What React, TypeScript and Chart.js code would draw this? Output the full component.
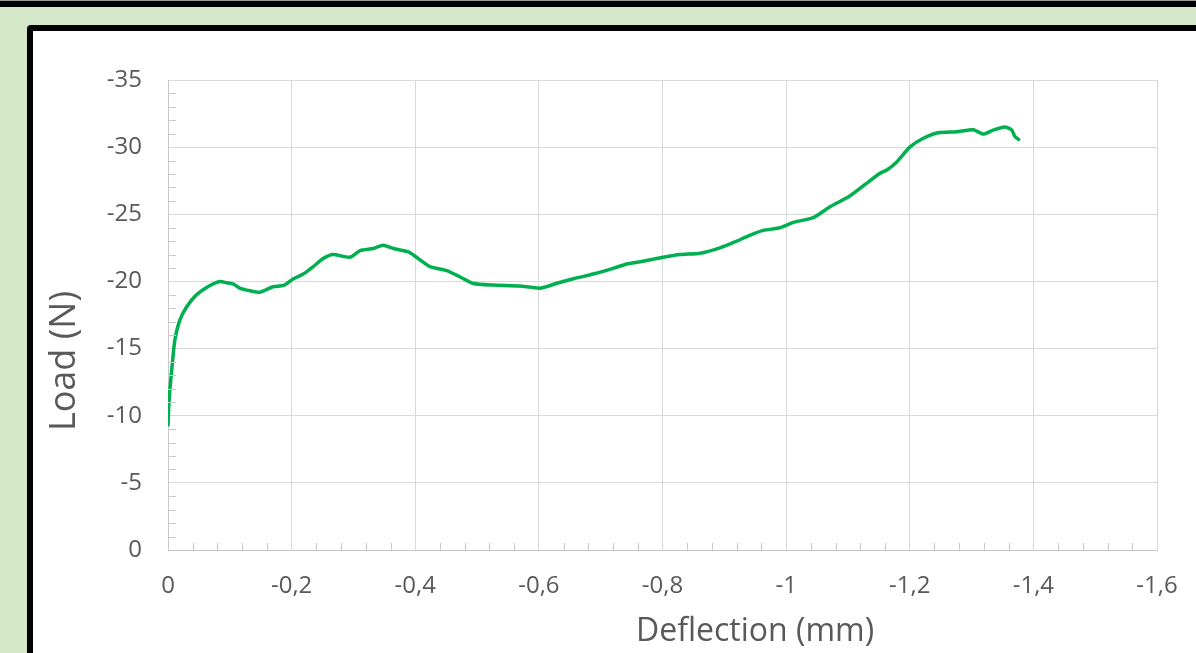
import React, { useEffect, useRef } from "react";
import { Chart, registerables } from "chart.js";

Chart.register(...registerables);

const deflection: number[] = [
  0, -0.001, -0.003, -0.007, -0.011, -0.019, -0.03, -0.046, -0.068, -0.084,
  -0.095, -0.106, -0.116, -0.133, -0.149, -0.17, -0.187, -0.203, -0.219, -0.235,
  -0.251, -0.267, -0.294, -0.311, -0.332, -0.348, -0.365, -0.389, -0.402, -0.424,
  -0.451, -0.472, -0.494, -0.526, -0.569, -0.602, -0.629, -0.656, -0.688, -0.72,
  -0.742, -0.764, -0.801, -0.828, -0.861, -0.893, -0.915, -0.942, -0.963, -0.99,
  -1.012, -1.044, -1.071, -1.103, -1.13, -1.152, -1.163, -1.179, -1.2, -1.222,
  -1.246, -1.276, -1.303, -1.319, -1.335, -1.354, -1.365, -1.37, -1.378,
];
const load: number[] = [
  -9.2, -10.5, -11.9, -13.9, -15.6, -17.1, -18.1, -19.0, -19.7, -20.0,
  -19.9, -19.8, -19.5, -19.3, -19.2, -19.6, -19.7, -20.2, -20.55, -21.1,
  -21.7, -22.0, -21.8, -22.3, -22.45, -22.7, -22.45, -22.2, -21.8, -21.1,
  -20.8, -20.35, -19.85, -19.73, -19.66, -19.5, -19.86, -20.2, -20.55, -20.97,
  -21.3, -21.47, -21.8, -22.0, -22.1, -22.5, -22.9, -23.45, -23.8, -24.0,
  -24.4, -24.75, -25.56, -26.36, -27.3, -28.05, -28.3, -28.9, -30.0, -30.66,
  -31.07, -31.15, -31.3, -30.97, -31.27, -31.5, -31.27, -30.8, -30.5,
];
const xTitle = "Deflection (mm)";
const yTitle = "Load (N)";
const xMin = -1.6;
const xMax = 0;
const xStep = 0.2;
const xMinorStep = 0.04;
const yMin = -35;
const yMax = 0;
const yStep = 5;
const yMinorStep = 1;

const FONT = "'Open Sans', sans-serif";
const TEXT = "#595959";

const decor = {
  id: "decor",
  afterDraw(chart: any) {
    const { ctx, chartArea, scales } = chart;
    const xs = scales.x;
    const ys = scales.y;
    ctx.save();
    ctx.strokeStyle = "#c8c8c8";
    ctx.lineWidth = 1;
    ctx.beginPath();
    for (let v = yMin + yMinorStep; v < yMax; v += yMinorStep) {
      const r = Math.round(v);
      if (r % yStep === 0) continue;
      const py = Math.round(ys.getPixelForValue(r)) + 0.5;
      ctx.moveTo(chartArea.left, py);
      ctx.lineTo(chartArea.left + 8, py);
    }
    const n = Math.round((xMax - xMin) / xMinorStep);
    for (let i = 1; i < n; i++) {
      if (i % Math.round(xStep / xMinorStep) === 0) continue;
      const v = xMax - i * xMinorStep;
      const px = Math.round(xs.getPixelForValue(v)) + 0.5;
      ctx.moveTo(px, chartArea.bottom);
      ctx.lineTo(px, chartArea.bottom - 7);
    }
    ctx.stroke();

    ctx.fillStyle = TEXT;
    ctx.textAlign = "center";
    ctx.textBaseline = "middle";
    ctx.font = `32px ${FONT}`;
    ctx.fillText(xTitle, 755, 632);
    ctx.translate(65, 361);
    ctx.rotate(-Math.PI / 2);
    ctx.font = `36px ${FONT}`;
    ctx.fillText(yTitle, 0, 0);
    ctx.restore();
  },
};

function fmt(v: number): string {
  const r = Number(v.toFixed(1));
  return String(r).replace(".", ",");
}

export default function App() {
  const ref = useRef<HTMLCanvasElement | null>(null);
  useEffect(() => {
    if (!ref.current) return;
    const data = deflection.map((x, i) => ({ x, y: load[i] }));
    const chart = new Chart(ref.current, {
      type: "scatter",
      data: {
        datasets: [
          {
            data,
            showLine: true,
            borderColor: "#00b050",
            backgroundColor: "#00b050",
            borderWidth: 3.5,
            pointRadius: 0,
            tension: 0.2,
          },
        ],
      },
      options: {
        responsive: false,
        animation: false,
        layout: { padding: { top: 80, right: 39, left: 0, bottom: 0 } },
        plugins: { legend: { display: false }, tooltip: { enabled: false } },
        scales: {
          x: {
            type: "linear",
            min: xMin,
            max: xMax,
            reverse: true,
            afterFit: (s: any) => {
              s.height = 103;
              s.paddingLeft = 0;
              s.paddingRight = 0;
            },
            ticks: {
              stepSize: xStep,
              color: TEXT,
              font: { family: FONT, size: 24 },
              padding: 22,
              callback: (v: any) => fmt(Number(v)),
            },
            grid: { color: "#d9d9d9", drawTicks: false, tickLength: 0 },
            border: { color: "#c8c8c8" },
          },
          y: {
            type: "linear",
            min: yMin,
            max: yMax,
            reverse: true,
            afterFit: (s: any) => {
              s.width = 168;
            },
            ticks: {
              stepSize: yStep,
              color: TEXT,
              font: { family: FONT, size: 24 },
              padding: 26,
            },
            grid: { color: "#d9d9d9", drawTicks: false, tickLength: 0 },
            border: { color: "#c8c8c8" },
          },
        },
      },
      plugins: [decor],
    });
    return () => chart.destroy();
  }, []);

  return (
    <div
      style={{
        position: "fixed",
        left: 0,
        top: 0,
        width: 1196,
        height: 653,
        background: "#d4e7c6",
        overflow: "hidden",
      }}
    >
      <div
        style={{
          position: "absolute",
          left: 0,
          top: 0,
          width: 1196,
          height: 7,
          background: "#000",
          borderTop: "1px solid #9a9a9a",
          boxSizing: "border-box",
        }}
      />
      <div
        style={{
          position: "absolute",
          left: 27,
          top: 25,
          width: 1400,
          height: 900,
          background: "#fff",
          border: "6px solid #000",
          borderRadius: 4,
          boxSizing: "border-box",
        }}
      />
      <canvas
        ref={ref}
        width={1196}
        height={653}
        style={{ position: "absolute", left: 0, top: 0, width: 1196, height: 653 }}
      />
    </div>
  );
}
